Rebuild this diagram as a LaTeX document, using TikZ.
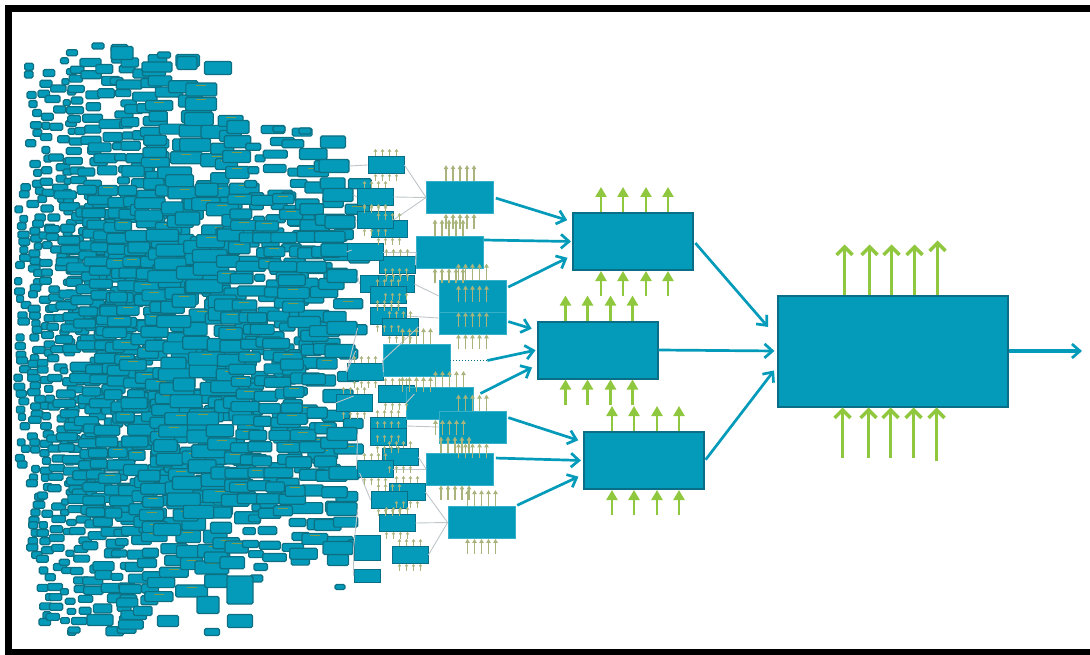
\documentclass[tikz,border=0pt]{standalone}
\usetikzlibrary{arrows.meta}
\definecolor{tealfill}{HTML}{049BBA}
\definecolor{tealedge}{HTML}{0A6F86}
\definecolor{celledge}{HTML}{0D6F82}
\definecolor{leafgreen}{HTML}{8FC73E}
\definecolor{fadegreen}{HTML}{A9B47C}
\definecolor{fleckgreen}{HTML}{7E9A4C}
\definecolor{wiregrey}{HTML}{BFC6CA}
\tikzset{
  cellbox/.style={draw=celledge, fill=tealfill, line width=1.2pt, rounded corners=1.5pt, inner sep=0pt},
  smallblk/.style={draw=tealedge, fill=tealfill, line width=.8pt, inner sep=0pt, minimum width=36pt, minimum height=17pt},
  sideblk/.style={draw=tealfill!80!white, fill=tealfill, line width=.8pt, inner sep=0pt, minimum width=67pt, minimum height=32pt},
  midblk/.style={draw=tealedge, fill=tealfill, line width=2pt, inner sep=0pt, minimum width=120pt, minimum height=57pt},
  mainblk/.style={draw=tealedge, fill=tealfill, line width=2pt, inner sep=0pt, minimum width=230pt, minimum height=111pt},
  flow/.style={tealfill, line width=2.7pt, -{Straight Barb[length=8pt,width=14pt,line width=2.7pt]}},
  wire/.style={wiregrey, line width=.9pt},
  fleck/.style={fleckgreen, line width=1pt},
  upbig/.style={leafgreen, line width=3.4pt, -{Straight Barb[length=8pt,width=16pt,line width=3.4pt]}},
  upmid/.style={leafgreen, line width=2.4pt, -{Triangle[length=10pt,width=11pt]}},
  upside/.style={fadegreen, line width=1.4pt, -{Triangle[length=4pt,width=4.5pt]}},
  uptiny/.style={fadegreen, line width=1pt, -{Triangle[length=2.5pt,width=3.5pt]}},
}
\begin{document}
\begin{tikzpicture}[x=1pt, y=-1pt]
  \useasboundingbox (0,0) rectangle (1090,655);

  % wide tree of small blocks --------------------------------
  \pgfmathsetseed{41}
  \foreach \cx/\ytop/\ybot/\w/\h/\dy [count=\c] in {
      22/186/470/9/7/8, 26/66/84/9/7/8, 34/84/190/9/7/10, 36/190/560/10/7/7,
      46/72/200/10/7/11, 46/200/635/10/7/9, 58/88/620/13/7/10, 68/42/640/9/6/10,
      80/70/625/14/7/10, 93/52/610/17/8/11, 108/70/635/20/9/11, 122/48/640/15/7/11,
      135/62/630/22/9/12, 150/60/612/20/9/12, 165/68/600/24/10/12,
      186/60/592/28/12/14, 207/90/590/30/13/14, 222/122/560/24/11/14,
      240/128/575/26/12/15, 255/135/585/13/7/12, 275/128/565/20/8/13,
      295/132/578/18/8/13, 312/155/560/26/11/16, 334/165/570/26/11/18,
      352/185/560/24/10/24,
      % denser middle of the tree
      72/195/500/18/8/11, 87/190/510/20/9/11, 100/200/520/20/9/12,
      115/190/520/22/10/12, 128/190/510/22/10/12, 143/170/530/24/11/13,
      158/190/530/26/11/13, 175/180/540/28/12/14, 196/190/520/28/13/14,
      214/210/500/30/13/15, 230/220/500/24/12/14, 248/200/510/24/10/13,
      265/200/520/22/10/13, 285/200/520/24/10/13, 303/210/500/26/11/14,
      323/220/520/26/11/16}{
    \pgfmathsetmacro\ynext{\ytop+\dy}
    \foreach \cy [count=\r] in {\ytop,\ynext,...,\ybot}{
      \pgfmathtruncatemacro\keep{rnd>0.1}
      \pgfmathtruncatemacro\mark{rnd>0.7}
      \pgfmathsetmacro\jx{\cx+rand*\w*0.45}
      \pgfmathsetmacro\jy{\cy+rand*1.5}
      \pgfmathsetmacro\sw{\w*(0.75+0.5*rnd)}
      \ifnum\keep=1
        \node[cellbox, minimum width=\sw pt, minimum height=\h pt] (cell\c-\r) at (\jx,\jy) {};
        \ifnum\h>9 \ifnum\mark=1
          \draw[fleck] ([xshift=-5pt,yshift=-3pt]cell\c-\r.north) -- ([xshift=5pt,yshift=-3pt]cell\c-\r.north);
        \fi\fi
      \fi
    }
  }

  % outlying blocks at the rim --------------------------------
  \foreach \px/\py/\w/\h [count=\i] in {
      122/53/22/13, 98/46/12/6, 187/63/20/13, 218/68/27/13, 164/55/13/6,
      238/127/22/13, 279/129/12/6, 305/131/12/6, 333/142/25/12,
      240/590/26/28, 240/621/25/13, 212/632/15/7, 208/605/22/17,
      168/621/21/11, 100/620/26/11, 74/630/12/6, 340/587/10/5}{
    \node[cellbox, minimum width=\w pt, minimum height=\h pt] (rim\i) at (\px,\py) {};
  }

  % blocks that feed the small row ----------------------------
  \foreach \name/\px/\py in {
      feeda/334/166, feedb/338/195, feedc/340/222, feedd/336/250, feede/342/276,
      feedf/342/328, feedg/340/351, feedh/338/396, feedi/342/434, feedj/344/473,
      feedk/342/509, feedl/338/548}{
    \node[cellbox, minimum width=30pt, minimum height=13pt] (\name) at (\px,\py) {};
  }

  % small row -------------------------------------------------
  \foreach \name/\px/\py in {
      sc/389/229, se/397/265, sf/378/284, sg/396/284, sh/388/295, si/388/316,
      sj/400/327, sk/365/372, sl/396/394, sm/354/403, sn/388/426, so/388/437,
      sp/400/457, sq/375/469, sr/407/492, ss/389/500, st/397/523, su/410/555,
      sa/386/165, sb/375/197, sd/375/220, sx/365/252}{
    \node[smallblk] (\name) at (\px,\py) {};
  }
  \node[smallblk, minimum width=26pt, minimum height=25pt] (sv) at (367,548) {};
  \node[smallblk, minimum width=26pt, minimum height=13pt] (sw) at (367,576) {};

  % side blocks -----------------------------------------------
  \node[sideblk] (sidea) at (460,197.5) {};
  \node[sideblk] (sideb) at (450,252) {};
  \node[sideblk] (sidee) at (416.5,360.5) {};
  \node[sideblk] (sidef) at (439.5,403.5) {};
  \node[sideblk] (sided) at (472.5,318) {};
  \node[sideblk] (sidec) at (472.5,296) {};
  \node[sideblk] (sideg) at (472.5,427) {};
  \node[sideblk] (sideh) at (460,469) {};
  \node[sideblk] (sidei) at (481.5,522.5) {};

  % thin wires ------------------------------------------------
  \foreach \from/\to in {
      feeda/sa, feedb/sb, feedc/sd, feedd/sx, feede/sf, feedf/sk, feedg/sk,
      feedh/sm, feedi/sq, feedj/ss, feedk/sv, feedl/sw}{
    \draw[wire] (\from.east) -- (\to.west);
  }
  \foreach \from/\to in {
      sa/sidea, sb/sidea, sd/sidea, sx/sideb, se/sideb, sg/sidec, si/sided,
      sj/sidee, sk/sidee, sl/sidef, sn/sideg, sp/sideh, sq/sideh, sr/sidei,
      st/sidei, su/sidei}{
    \draw[wire] (\from.east) -- (\to.west);
  }

  % middle and main blocks ------------------------------------
  \node[midblk] (mida) at (633,241.5) {};
  \node[midblk] (midb) at (597.5,350) {};
  \node[midblk] (midc) at (644,460.5) {};
  \node[mainblk] (mainblk) at (892.5,351) {};
  \coordinate (exit) at (1082,351);

  % teal arrows between the blocks ----------------------------
  \draw[flow, shorten <=2pt, shorten >=5pt] (sidea.east) -- (mida.162);
  \draw[flow, shorten >=1pt] ([yshift=12pt]sideb.east) -- (mida.180);
  \draw[flow, shorten <=2pt, shorten >=5pt] ([yshift=8pt]sidec.east) -- (mida.193);
  \draw[flow, shorten <=2pt, shorten >=5pt] ([yshift=-3pt]sided.east) -- (midb.162);
  \draw[tealedge, dotted, line width=1pt] (sidee.east) -- ([xshift=37pt]sidee.east);
  \draw[flow, shorten >=1pt] ([xshift=37pt]sidee.east) -- (midb.west);
  \draw[flow, shorten >=5pt] ([xshift=7pt,yshift=10pt]sidef.east) -- (midb.194);
  \draw[flow, shorten <=2pt, shorten >=5pt] ([yshift=10pt]sideg.east) -- (midc.163);
  \draw[flow, shorten <=2pt, shorten >=2pt] ([yshift=11pt]sideh.east) -- (midc.180);
  \draw[flow, shorten <=2pt, shorten >=5pt] (sidei.north east) -- (midc.193);
  \draw[flow, shorten <=2pt, shorten >=13pt] (mida.east) -- (mainblk.173.5);
  \draw[flow, shorten >=2pt] (midb.east) -- (mainblk.west);
  \draw[flow, shorten <=1pt, shorten >=4pt] (midc.east) -- (mainblk.188);
  \draw[flow, line width=3.2pt] (mainblk.east) -- (exit);

  % green arrows ----------------------------------------------
  \foreach \name in {sa,sb,sc,sd,se,sg,sh,si,sj,sk,sl,sm,sn,so,sp,sq,sr,ss,st,su}{
    \foreach \dx in {-10.5,-3.5,3.5,10.5}{
      \draw[uptiny] ([xshift=\dx pt]\name.north) -- +(0,-7);
      \draw[uptiny] ([xshift=\dx pt,yshift=-7pt]\name.south) -- +(0,-7);
    }
  }
  \foreach \name/\sh in {sidea/0,sideb/-1,sidec/0,sided/0,sidee/0,sidef/10,sideg/0,sideh/-5,sidei/0}{
    \foreach \dx in {-14,-7,0,7,14}{
      \draw[upside] ([xshift=\dx pt+\sh pt]\name.north) -- +(0,-16);
      \draw[upside] ([xshift=\dx pt+\sh pt,yshift=-15pt]\name.south) -- +(0,-15);
    }
  }
  \foreach \name/\sh in {mida/1,midb/1,midc/1}{
    \foreach \dx in {-33,-11,12,34}{
      \draw[upmid] ([xshift=\dx pt+\sh pt]\name.north) -- +(0,-25);
      \draw[upmid] ([xshift=\dx pt+\sh pt,yshift=-25pt]\name.south) -- +(0,-25);
    }
  }
  \foreach \dx/\tall in {-48/50,-23/50,-1/50,22/50,45/54}{
    \draw[upbig] ([xshift=\dx pt]mainblk.north) -- +(0,-\tall);
  }
  \foreach \dx/\tall in {-50/50,-24/50,-2/50,21/50,44/53}{
    \draw[upbig] ([xshift=\dx pt,yshift=-\tall pt]mainblk.south) -- +(0,-\tall);
  }

  % picture frame ---------------------------------------------
  \node[draw=black, line width=7pt, inner sep=0pt, minimum width=1100pt, minimum height=644pt] (frame) at (558.5,330.5) {};

\end{tikzpicture}
\end{document}
